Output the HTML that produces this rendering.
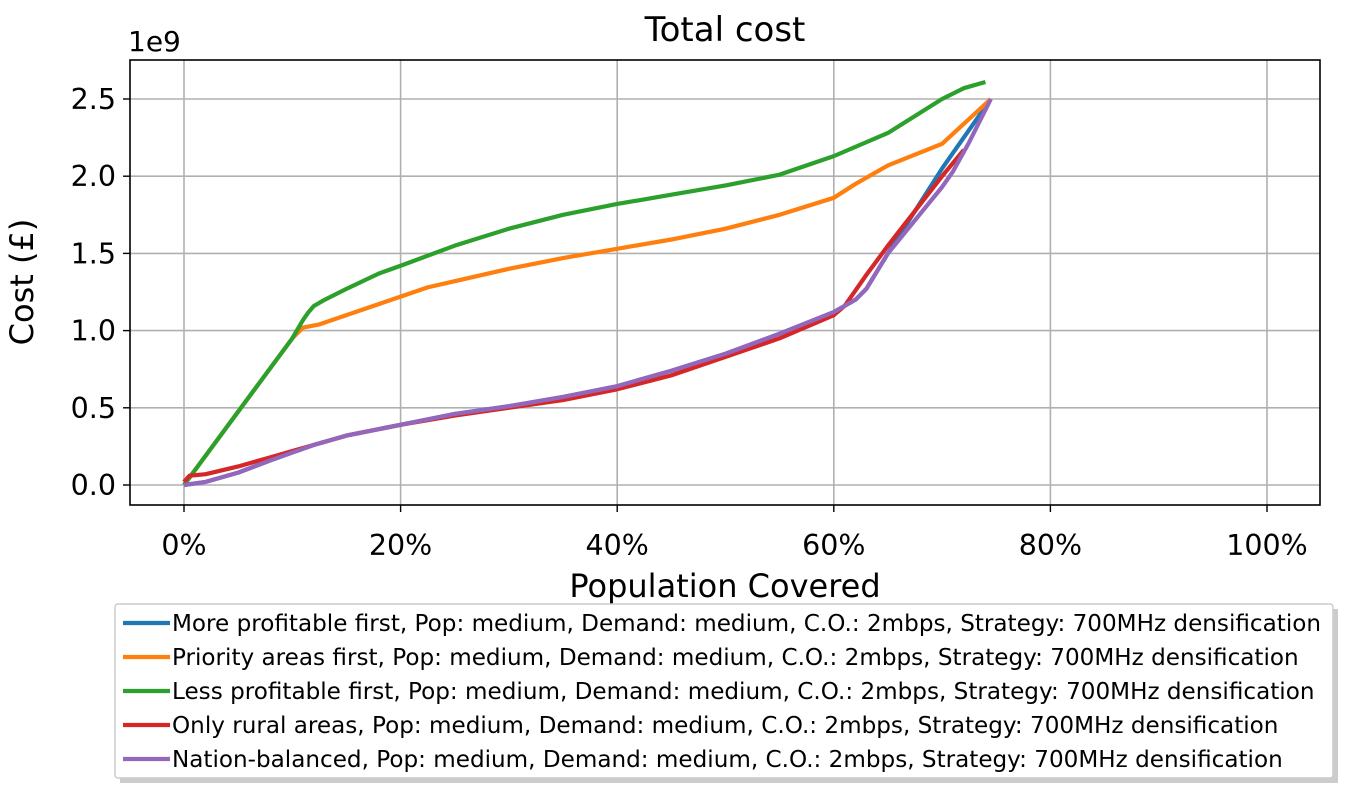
<!DOCTYPE html>
<html><head><meta charset="utf-8"><style>
html,body{margin:0;padding:0;background:#fff;}
svg{display:block;font-family:"DejaVu Sans","Liberation Sans",sans-serif;}
</style></head><body>
<svg id="chart" width="1352" height="796" viewBox="0 0 1352 796">
<g id="grid"></g>
<g id="series"></g>
<rect x="130" y="60" width="1190" height="445" fill="none" stroke="#000" stroke-width="1.6"/>
<g id="ticks"></g>
<text x="725" y="41" font-size="34" text-anchor="middle">Total cost</text>
<text x="128" y="51" font-size="28">1e9</text>
<text x="725" y="597" font-size="32" text-anchor="middle">Population Covered</text>
<text transform="translate(33,282) rotate(-90)" font-size="32" text-anchor="middle">Cost (£)</text>
<g id="legend">
<rect x="120" y="609" width="1218" height="174" fill="#999" opacity="0.5"/>
<rect x="115" y="604" width="1218" height="174" fill="#fff" stroke="#ccc" stroke-width="1.5" rx="3"/>
</g>
</svg>
<script>
const xTicks=[0,20,40,60,80,100];
const yTicks=[0,0.5,1.0,1.5,2.0,2.5];
const seriesNames=["More profitable first","Priority areas first","Less profitable first","Only rural areas","Nation-balanced"];
const seriesColors=["#1f77b4","#ff7f0e","#2ca02c","#d62728","#9467bd"];
const blueX=[0,2,5,8,10,12,15,20,25,30,35,40,45,50,55,60,62,63,65,70,72,74];
const blueY=[0,0.02,0.08,0.16,0.21,0.26,0.32,0.39,0.46,0.51,0.57,0.64,0.74,0.85,0.98,1.12,1.20,1.27,1.50,2.05,2.25,2.45];
const orangeX=[0,10,11,12.5,15,20,22.5,25,30,35,40,45,50,55,60,62,65,70,74.5];
const orangeY=[0,0.95,1.02,1.04,1.10,1.22,1.28,1.32,1.40,1.47,1.53,1.59,1.66,1.75,1.86,1.95,2.07,2.21,2.50];
const greenX=[0,10,11,11.5,12,13,15,18,20,25,30,35,40,45,50,55,60,65,70,72,74];
const greenY=[0,0.95,1.07,1.12,1.16,1.20,1.27,1.37,1.42,1.55,1.66,1.75,1.82,1.88,1.94,2.01,2.13,2.28,2.50,2.57,2.61];
const redX=[0,0.5,2,5,8,10,12,15,20,25,30,35,40,45,50,55,60,61,63,65,70,72];
const redY=[0.02,0.06,0.07,0.12,0.18,0.22,0.26,0.32,0.39,0.45,0.50,0.55,0.62,0.71,0.83,0.95,1.10,1.16,1.36,1.55,2.00,2.17];
const purpleX=[0,2,5,8,10,12,15,20,25,30,35,40,45,50,55,60,62,63,65,70,71,72.5,74.5];
const purpleY=[0,0.02,0.08,0.16,0.21,0.26,0.32,0.39,0.46,0.51,0.57,0.64,0.74,0.85,0.98,1.12,1.20,1.27,1.50,1.93,2.03,2.22,2.50];
const NS="http://www.w3.org/2000/svg";
const sx=v=>184+v*10.83;
const sy=v=>485-v*154.4;
function mk(tag,attrs,parent){const e=document.createElementNS(NS,tag);for(const k in attrs)e.setAttribute(k,attrs[k]);parent.appendChild(e);return e;}
const grid=document.getElementById('grid'),ticks=document.getElementById('ticks'),ser=document.getElementById('series'),leg=document.getElementById('legend');
xTicks.forEach(t=>{
 const l=mk('line',{x1:sx(t),x2:sx(t),y1:60,y2:505,stroke:'#b0b0b0','stroke-width':1.6},grid);
 
 
 mk('line',{x1:sx(t),x2:sx(t),y1:505,y2:512,stroke:'#000','stroke-width':1.4},ticks);
 const tx=mk('text',{x:sx(t),y:555,'font-size':28.5,'text-anchor':'middle'},ticks);tx.textContent=t+'%';
 
 
});
yTicks.forEach(t=>{
 const l=mk('line',{x1:130,x2:1320,y1:sy(t),y2:sy(t),stroke:'#b0b0b0','stroke-width':1.6},grid);
 
 
 mk('line',{x1:123,x2:130,y1:sy(t),y2:sy(t),stroke:'#000','stroke-width':1.4},ticks);
 const tx=mk('text',{x:116,y:sy(t)+10,'font-size':28.5,'text-anchor':'end'},ticks);tx.textContent=t.toFixed(1);
 
 
});
const data=[[blueX,blueY],[orangeX,orangeY],[greenX,greenY],[redX,redY],[purpleX,purpleY]];
data.forEach((d,i)=>{
 const pts=d[0].map((x,j)=>sx(x)+','+sy(d[1][j])).join(' ');
 const p=mk('polyline',{points:pts,fill:'none',stroke:seriesColors[i],'stroke-width':4.2,'stroke-linejoin':'round'},ser);
 
 
});
const suffix=", Pop: medium, Demand: medium, C.O.: 2mbps, Strategy: 700MHz densification";
seriesNames.forEach((n,i)=>{
 const y=623+i*34;
 const g=mk('g',{},leg);
 
 
 mk('line',{x1:123,x2:170,y1:y,y2:y,stroke:seriesColors[i],'stroke-width':4.2},g);
 const t=mk('text',{x:172,y:y+8,'font-size':23.1},g);t.textContent=n+suffix;
});
</script>
</body></html>
